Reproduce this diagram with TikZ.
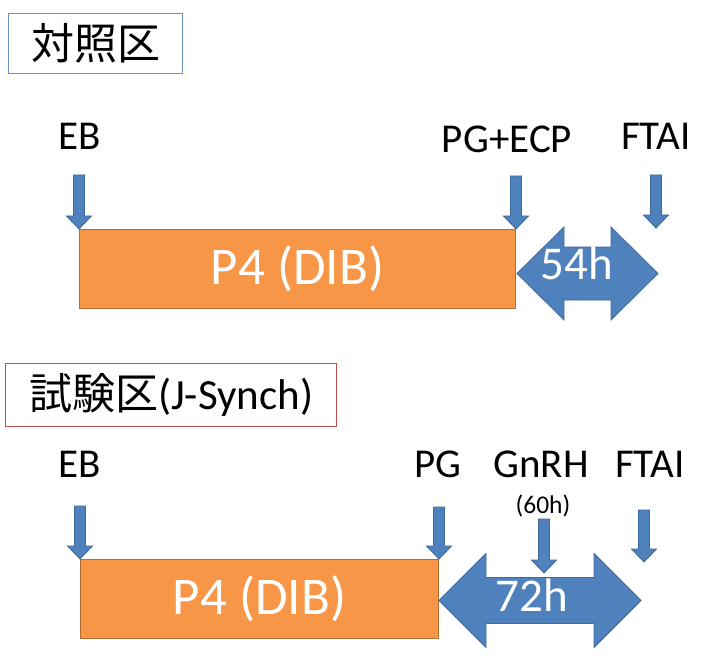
\documentclass[tikz,border=0pt]{standalone}
\usepackage{fontspec}
\setmainfont{Carlito}
\newfontfamily\jpfont{Noto Sans CJK JP}
\usetikzlibrary{calc}
\definecolor{org}{HTML}{F79646}
\definecolor{orgedge}{HTML}{B66D31}
\definecolor{blu}{HTML}{4F81BD}
\definecolor{bluedge}{HTML}{3E6A9E}
\definecolor{ttlblue}{HTML}{6A92C8}
\definecolor{ttlred}{HTML}{C0504D}

% down block arrow: tip, length
\newcommand{\dnarrow}[2]{%
  \filldraw[blk] ([shift={(-5.5,-#2)}]#1) -- ([shift={(5.5,-#2)}]#1) -- ([shift={(5.5,-13)}]#1)
    -- ([shift={(12.5,-13)}]#1) -- (#1) -- ([shift={(-12.5,-13)}]#1) -- ([shift={(-5.5,-13)}]#1) -- cycle;}
% double block arrow: left tip, length, shaft half, head half, head length
\newcommand{\dblarrow}[5]{%
  \filldraw[blk, shift={(#1)}] (0,0) -- (#5,-#4) -- (#5,-#3) -- (#2-#5,-#3) -- (#2-#5,-#4) -- (#2,0)
    -- (#2-#5,#4) -- (#2-#5,#3) -- (#5,#3) -- (#5,#4) -- cycle;}

\begin{document}
\begin{tikzpicture}[
  x=1pt, y=-1pt,
  font=\fontsize{41}{46}\selectfont,
  ttl/.style={line width=1.4pt, fill=white, inner sep=0pt, font=\fontsize{43}{48}\selectfont},
  phase/.style={fill=org, draw=orgedge, line width=1pt, inner sep=0pt, text=white, font=\fontsize{53}{58}\selectfont},
  blk/.style={fill=blu, draw=bluedge, line width=0.8pt},
  lab/.style={inner sep=0pt, anchor=base},
  hrs/.style={inner sep=0pt, anchor=base, text=white, font=\fontsize{47}{52}\selectfont}
]
\useasboundingbox (0,0) rectangle (720,663);

% ---------------------------------------------------------------- control
\node[ttl, draw=ttlblue, minimum width=174pt, minimum height=60pt, anchor=north west] (ctrl) at (8,13) {\jpfont 対照区};

\node[phase, minimum width=436pt, minimum height=79pt, anchor=north west] (p4a) at (79,229) {P4 (DIB)};

\node[lab] (eba) at (80,150) {EB};
\node[lab] (pgecp) at (507,153) {PG+ECP};
\node[lab] (ftaia) at (656,150) {FTAI};
\coordinate (ftaiatip) at (656,228);

\dnarrow{p4a.north west}{54}
\dnarrow{p4a.north east}{53}
\dnarrow{ftaiatip}{53}

\dblarrow{$(p4a.east)+(1,4.5)$}{141}{26.5}{46.5}{47}
\node[hrs] (h54) at (577,279) {54h};

% ---------------------------------------------------------------- J-Synch
\node[ttl, draw=ttlred, minimum width=331pt, minimum height=63pt, anchor=north west] (test) at (5,363) {{\jpfont 試験区}(J-Synch)};

\node[phase, minimum width=358pt, minimum height=79pt, anchor=north west] (p4b) at (80,559) {P4 (DIB)};

\node[lab] (ebb) at (80,477) {EB};
\node[lab] (pg) at (438,477) {PG};
\node[lab] (gnrh) at (541,477) {GnRH};
\node[lab, font=\fontsize{25.5}{30}\selectfont] (at60) at (543,513) {(60h)};
\node[lab] (ftaib) at (650,477) {FTAI};
\coordinate (gnrhtip) at (544,573);
\coordinate (ftaibtip) at (644,562);

\dnarrow{p4b.north west}{53}
\dnarrow{p4b.north east}{52}
\dnarrow{gnrhtip}{54}
\dnarrow{ftaibtip}{52}

\dblarrow{$(p4b.east)+(0,1.5)$}{202}{23}{47}{47}
\node[hrs] (h72) at (532,611) {72h};
\end{tikzpicture}
\end{document}
